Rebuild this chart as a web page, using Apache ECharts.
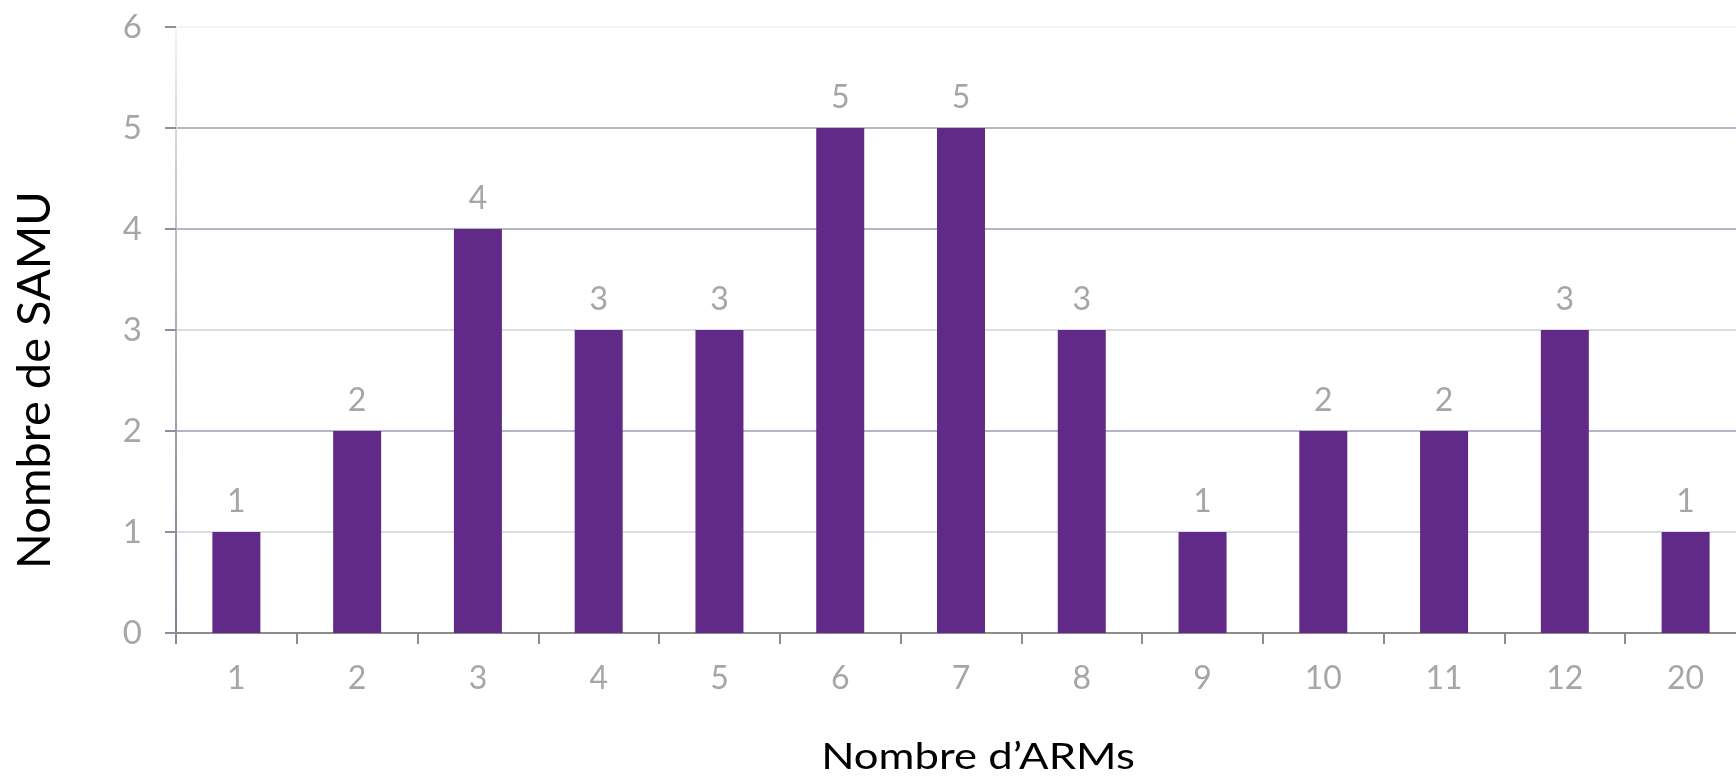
<!DOCTYPE html>
<html>
<head>
<meta charset="utf-8">
<script src="https://cdn.jsdelivr.net/npm/echarts@6/dist/echarts.min.js"></script>
<style>
  html, body { margin: 0; padding: 0; background: #ffffff; }
  #chart { width: 1736px; height: 778px; }
</style>
</head>
<body>
<div id="chart"></div>
<script>
// Nombre de SAMU selon le nombre d'ARMs
const categories = ['1', '2', '3', '4', '5', '6', '7', '8', '9', '10', '11', '12', '20'];
const samuCounts = [1, 2, 4, 3, 3, 5, 5, 3, 1, 2, 2, 3, 1];
const yTicks = [0, 1, 2, 3, 4, 5, 6];

const FONT = 'Lato, "Open Sans", sans-serif';
const chart = echarts.init(document.getElementById('chart'), null, { renderer: 'canvas' });

chart.setOption({
  backgroundColor: '#ffffff',
  animation: false,
  // the plot runs slightly past the right edge of the canvas
  grid: { left: 176, width: 1570, top: 27, bottom: 145, outerBoundsMode: 'none', containLabel: false },
  xAxis: {
    type: 'category',
    data: categories,
    axisLine: { lineStyle: { color: '#8c8c8c', width: 2 } },
    axisTick: { show: true, length: 11, lineStyle: { color: '#8c8c8c', width: 2 } },
    axisLabel: { color: '#a6a6a6', fontSize: 32, fontFamily: FONT, margin: 30 }
  },
  yAxis: {
    type: 'value',
    min: yTicks[0],
    max: yTicks[yTicks.length - 1],
    interval: 1,
    axisLine: {
      show: true,
      lineStyle: {
        width: 2,
        color: new echarts.graphic.LinearGradient(0, 0, 0, 1, [
          { offset: 0, color: '#f4f4f6' },
          { offset: 0.35, color: '#b8bcc8' },
          { offset: 1, color: '#7c8294' }
        ])
      }
    },
    axisTick: { show: true, length: 11, lineStyle: { color: '#8a90a0', width: 2 } },
    axisLabel: { color: '#a6a6a6', fontSize: 33, fontFamily: FONT, margin: 34 },
    splitLine: {
      show: true,
      lineStyle: {
        width: 2,
        color: ['#d9d9d9', '#dcdde2', '#b3b6c6', '#dcdde2', '#b3b6c6', '#b3b6c6', '#f3f3f5']
      }
    }
  },
  series: [{
    type: 'bar',
    data: samuCounts,
    barWidth: 48,
    itemStyle: { color: '#612a89' },
    label: {
      show: true,
      position: 'top',
      distance: 14,
      color: '#a6a6a6',
      fontSize: 32,
      fontFamily: FONT
    }
  }],
  graphic: [
    {
      type: 'text',
      x: 978,
      y: 757,
      scaleX: 1.18,
      style: {
        text: 'Nombre d\u2019ARMs',
        fill: '#000000',
        font: '37px ' + FONT,
        align: 'center',
        verticalAlign: 'middle'
      }
    },
    {
      type: 'text',
      x: 35,
      y: 380,
      rotation: Math.PI / 2,
      style: {
        text: 'Nombre de SAMU',
        fill: '#000000',
        font: '47px ' + FONT,
        align: 'center',
        verticalAlign: 'middle'
      }
    }
  ]
});
</script>
</body>
</html>
